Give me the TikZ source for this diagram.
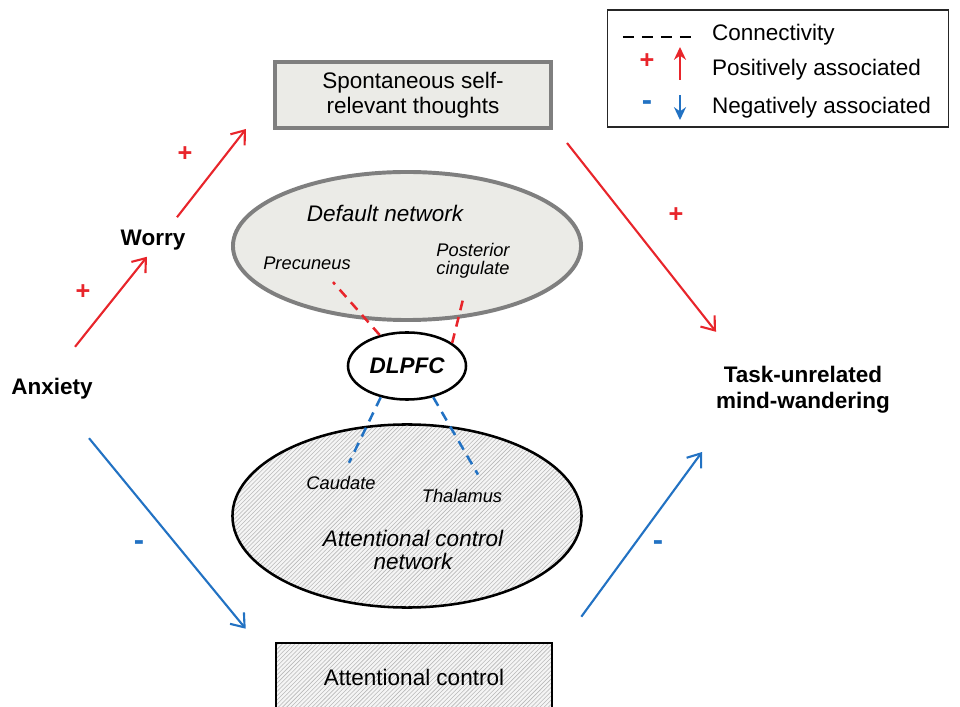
\documentclass[tikz,border=0pt]{standalone}
\usepackage{fontspec}
\setmainfont{Liberation Sans}
\usepackage{xcolor}
\usepackage{tikz}
\usetikzlibrary{shapes.geometric, arrows.meta, patterns}

\definecolor{posred}{HTML}{E8252B}
\definecolor{negblue}{HTML}{2272C3}
\definecolor{boxgray}{HTML}{EBEBE7}
\definecolor{edgegray}{HTML}{7F7F7F}

\begin{document}
\begin{tikzpicture}[
    x = 0.025cm, y = -0.025cm,
    every node/.style = {font=\fontsize{16}{18}\selectfont, inner sep=2pt, align=center},
    bigtext/.style = {font=\fontsize{16}{18}\selectfont\bfseries},
    region/.style = {font=\fontsize{13}{13}\selectfont\itshape},
    sign/.style = {font=\fontsize{18}{18}\selectfont\bfseries},
    minus/.style = {font=\fontsize{22}{22}\selectfont\bfseries},
    hatchfill/.style = {preaction={fill=gray!8}, pattern=north east lines, pattern color=gray!55},
    greybox/.style = {draw=edgegray, line width=2.8pt, fill=boxgray},
    posarr/.style = {posred, line width=1.5pt, -{Straight Barb[length=0.3cm, width=0.45cm]}},
    negarr/.style = {negblue, line width=1.5pt, -{Straight Barb[length=0.3cm, width=0.45cm]}},
    link/.style = {line width=1.8pt, dash pattern=on 7pt off 5pt}
  ]
    \clip (0,0) rectangle (960,707);

    % boxes and networks
    \node[greybox, minimum width=6.9cm, minimum height=1.65cm] (thoughts) at (413,95) {Spontaneous self-\\relevant thoughts};
    \node[greybox, ellipse, minimum width=8.7cm, minimum height=3.7cm] (dmn) at (407,246) {};
    \node[draw, ellipse, line width=1.8pt, hatchfill, minimum width=8.725cm, minimum height=4.575cm] (acn) at (407,516) {};
    \node[draw, line width=1.8pt, hatchfill, minimum width=6.9cm, minimum height=1.7cm] (attn) at (414,677) {Attentional control};
    \node[draw, ellipse, line width=1.8pt, fill=white, minimum width=2.95cm, minimum height=1.675cm,
          font=\fontsize{16}{18}\selectfont\bfseries\itshape] (dlpfc) at (407,366) {DLPFC};

    % labels inside the networks
    \node[font=\fontsize{16}{18}\selectfont\itshape] (dmnlabel) at (385,213) {Default network};
    \node[font=\fontsize{16}{17}\selectfont\itshape] (acnlabel) at (413,550) {Attentional control\\network};
    \node[region] (prec) at (307,263) {Precuneus};
    \node[region] (cing) at (473,261) {Posterior\\cingulate};
    \node[region] (caud) at (341,483) {Caudate};
    \node[region] (thal) at (462,496) {Thalamus};

    % outer nodes
    \node[bigtext] (anxiety) at (52,389) {Anxiety};
    \node[bigtext] (worry) at (153,240) {Worry};
    \node[bigtext] (task) at (803,389.7) {Task-unrelated\\mind-wandering};

    % connectivity
    \draw[link, posred] (dlpfc) -- ([xshift=0.65cm, yshift=-0.24cm]prec.south);
    \draw[link, posred] (dlpfc.27) -- ([xshift=-0.225cm, yshift=-0.34cm]cing.south);
    \draw[link, negblue] (dlpfc.230) -- ([xshift=0.2cm, yshift=0.26cm]caud.north);
    \draw[link, negblue] (dlpfc.310) -- ([xshift=0.4cm, yshift=0.29cm]thal.north);

    % associations
    \draw[posarr] ([xshift=0.575cm, yshift=0.715cm]anxiety.north) -- ([xshift=-0.15cm, yshift=-0.09cm]worry.south);
    \draw[posarr] ([xshift=0.6cm, yshift=0.24cm]worry.north) -- ([xshift=-0.675cm, yshift=0.025cm]thoughts.south west);
    \draw[posarr] ([xshift=0.35cm, yshift=-0.325cm]thoughts.south east) -- ([xshift=0.075cm, yshift=0.79cm]task.north west);
    \draw[negarr] ([xshift=0.925cm, yshift=-0.89cm]anxiety.south) -- ([xshift=-0.725cm, yshift=0.325cm]attn.north west);
    \draw[negarr] ([xshift=0.7cm, yshift=0.625cm]attn.north east) -- ([xshift=-0.275cm, yshift=-0.9cm]task.south west);

    \node[sign, posred] (plusa) at (83,292) {+};
    \node[sign, posred] (plusb) at (185,154) {+};
    \node[sign, posred] (plusc) at (676,215) {+};
    \node[minus, negblue] (minusa) at (139,546) {-};
    \node[minus, negblue] (minusb) at (658,546) {-};

    % legend
    \node[draw=black!85, line width=1.2pt, minimum width=8.525cm, minimum height=2.925cm] (legend) at (778,68.5) {};
    \node[anchor=west] (lgcon) at (709,35) {Connectivity};
    \node[anchor=west] (lgpos) at (709,70) {Positively associated};
    \node[anchor=west] (lgneg) at (709,108) {Negatively associated};
    \node[sign, posred] (lgplus) at (647,61) {+};
    \node[minus, negblue] (lgminus) at (647,106) {-};
    \draw[line width=1.6pt, dash pattern=on 7.8pt off 5.7pt] ([xshift=-2.15cm, yshift=-0.05cm]lgcon.west) -- ([xshift=-0.425cm, yshift=-0.05cm]lgcon.west);
    \draw[posred, line width=1.6pt, -{Stealth[length=0.32cm, width=0.3cm]}] ([xshift=-0.725cm, yshift=-0.25cm]lgpos.west) -- ([xshift=-0.725cm, yshift=0.575cm]lgpos.west);
    \draw[negblue, line width=1.6pt, -{Stealth[length=0.32cm, width=0.3cm]}] ([xshift=-0.725cm, yshift=0.325cm]lgneg.west) -- ([xshift=-0.725cm, yshift=-0.3cm]lgneg.west);
\end{tikzpicture}
\end{document}
